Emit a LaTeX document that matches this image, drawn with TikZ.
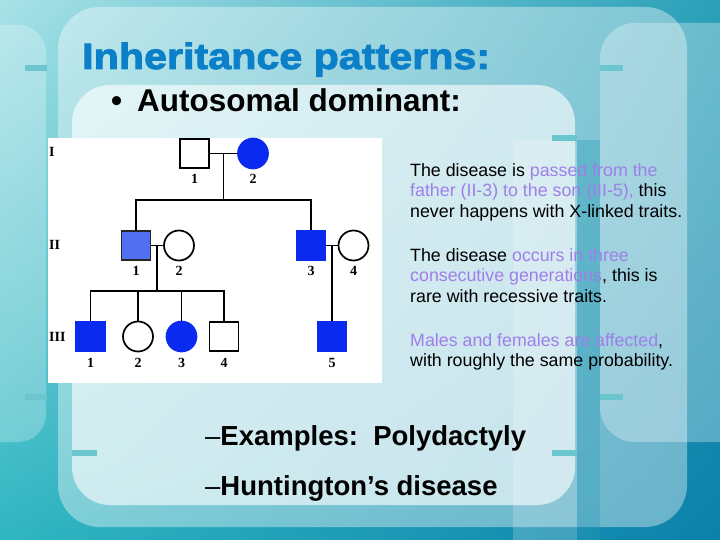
\documentclass[tikz,border=0pt]{standalone}
\usepackage{fontspec}
\setmainfont{Liberation Sans}
\newfontfamily\pedfont{Liberation Serif}
\newfontfamily\heavyfont{Liberation Sans Bold}[FakeStretch=1.13,FakeBold=2.5]
\usepackage{xcolor}
\usetikzlibrary{positioning,calc,shadings}
\definecolor{bgUL}{HTML}{A8E2E7}
\definecolor{bgUR}{HTML}{2AA0B8}
\definecolor{bgLL}{HTML}{2FB6C1}
\definecolor{bgLR}{HTML}{0B80AA}
\definecolor{tickTeal}{HTML}{6CC6D0}
\definecolor{bandDark}{HTML}{2A9CB6}
\definecolor{titleBlue}{HTML}{0B80C8}
\definecolor{pedBlue}{HTML}{0A2AF0}
\definecolor{pedLight}{HTML}{5070F0}
\definecolor{notePurple}{HTML}{A07EEA}
\tikzset{
    % pedigree symbols
    male/.style={rectangle,draw=black,line width=1.7pt,minimum size=29pt,inner sep=0pt,fill=white},
    female/.style={circle,draw=black,line width=1.7pt,minimum size=30pt,inner sep=0pt,fill=white},
    affected/.style={fill=pedBlue,draw=pedBlue},
    partial/.style={fill=pedLight,draw=black!85},
    link/.style={line width=1.9pt,black},
    pednum/.style={inner sep=0pt,font=\pedfont\bfseries\fontsize{14}{14}\selectfont},
    genlabel/.style={anchor=west,inner sep=0pt,font=\pedfont\bfseries\fontsize{14}{14}\selectfont},
    % slide texts
    note/.style={anchor=north west,align=left,inner sep=0pt,font=\fontsize{17.8}{20.5}\selectfont},
    headline/.style={anchor=base west,inner sep=0pt,font=\bfseries\fontsize{31.5}{36}\selectfont},
    example/.style={anchor=base west,inner sep=0pt,font=\bfseries\fontsize{27.5}{32}\selectfont},
    tick/.style={line width=6pt,tickTeal}
}

\begin{document}
\begin{tikzpicture}[x=1pt,y=-1pt]
    \useasboundingbox (0,0) rectangle (720,540);

    % Background and frames
    \shade[upper left=bgUL,upper right=bgUR,lower left=bgLL,lower right=bgLR] (0,0) rectangle (720,540);
    \fill[white,fill opacity=.25,rounded corners=28pt] (-40,25) rectangle (46,442);
    \fill[white,fill opacity=.3,rounded corners=35pt] (600,23) rectangle (760,442);
    \fill[white,fill opacity=.38,rounded corners=42pt] (58,7) rectangle (687,527);
    \fill[bandDark,fill opacity=.35] (577,140) rectangle (600,540);
    \fill[white,fill opacity=.2] (513,140) rectangle (577,540);
    \fill[white,fill opacity=.62,rounded corners=38pt] (72,85) rectangle (575,505);
    \draw[tick] (25,68) -- (47,68);
    \draw[tick] (25,397) -- (47,397);
    \draw[tick] (600,68) -- (623,68);
    \draw[tick] (600,397) -- (623,397);
    \draw[tick] (72,453) -- (97,453);
    \draw[tick] (552,138) -- (577,138);
    \draw[tick] (552,453) -- (577,453);

    % Headings
    \node[anchor=base west,inner sep=0pt,text=titleBlue,font=\heavyfont\fontsize{36.5}{40}\selectfont] (title) at (82,69) {Inheritance patterns:};
    \node[headline] (bullet) at (111,112) {•};
    \node[headline] (autodom) at (137,112) {Autosomal dominant:};

    % Pedigree
    \fill[white] (48,138) rectangle (382,383);
    \node[genlabel] (gI) at (49,152) {I};
    \node[genlabel] (gII) at (49,245) {II};
    \node[genlabel] (gIII) at (49,337) {III};

    \node[male] (I1) at (194.5,153.5) {};
    \node[female,affected] (I2) at (253,153.5) {};
    \node[male,partial] (II1) at (136,245.5) {};
    \node[female] (II2) at (179,245.5) {};
    \node[male,affected] (II3) at (311,245.5) {};
    \node[female] (II4) at (353.5,245.5) {};
    \node[male,affected] (III1) at (90.5,336.5) {};
    \node[female] (III2) at (138,336.5) {};
    \node[female,affected] (III3) at (181.5,336.5) {};
    \node[male] (III4) at (224,336.5) {};
    \node[male,affected] (III5) at (332,336.5) {};

    % Generation I to II
    \draw[link] (I1) -- (I2);
    \coordinate (m1) at ($(I1.east)!.5!(I2.west)$);
    \draw[link] (m1) -- ++(0,46.5) coordinate (s1);
    \draw[link] (II1) |- (s1) -| (II3);

    % Generation II to III
    \draw[link] (II1) -- (II2);
    \coordinate (m2) at ($(II1.east)!.5!(II2.west)$);
    \draw[link] (m2) -- ++(0,45.5) coordinate (s2);
    \draw[link] (III1) |- (s2) -| (III4);
    \draw[link] (III2) -- (III2 |- s2);
    \draw[link] (III3) -- (III3 |- s2);
    \draw[link] (II3) -- (II4);
    \coordinate (m3) at ($(II3.east)!.5!(II4.west)$);
    \draw[link] (m3) -- (III5);

    % Individual numbers
    \node[pednum,below=5pt of I1] (nI1) {1};
    \node[pednum,below=5pt of I2] (nI2) {2};
    \node[pednum,below=5pt of II1] (nII1) {1};
    \node[pednum,below=5pt of II2] (nII2) {2};
    \node[pednum,below=5pt of II3] (nII3) {3};
    \node[pednum,below=5pt of II4] (nII4) {4};
    \node[pednum,below=6pt of III1] (nIII1) {1};
    \node[pednum,below=6pt of III2] (nIII2) {2};
    \node[pednum,below=6pt of III3] (nIII3) {3};
    \node[pednum,below=6pt of III4] (nIII4) {4};
    \node[pednum,below=6pt of III5] (nIII5) {5};

    % Notes
    \node[note] (note1) at (410,163) {The disease is \textcolor{notePurple}{passed from the}\\\textcolor{notePurple}{father (II-3) to the son (III-5),} this\\never happens with X-linked traits.};
    \node[note] (note2) at (410,248) {The disease \textcolor{notePurple}{occurs in three}\\\textcolor{notePurple}{consecutive generations}, this is\\rare with recessive traits.};
    \node[note] (note3) at (410,333) {\textcolor{notePurple}{Males and females are affected},\\with roughly the same probability.};

    % Examples
    \node[example] (ex1) at (205,445) {{\mdseries –}Examples:\ \ Polydactyly};
    \node[example] (ex2) at (205,495) {{\mdseries –}Huntington’s disease};
\end{tikzpicture}
\end{document}
